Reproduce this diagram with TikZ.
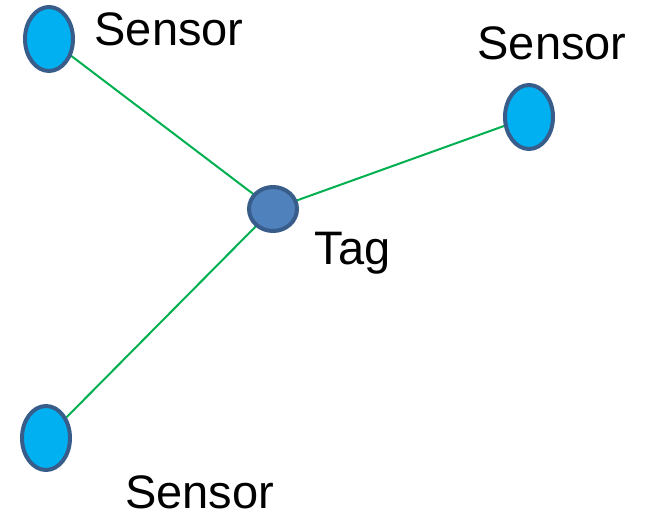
\documentclass[tikz,border=0pt]{standalone}
\usepackage{fontspec}
\setmainfont{Liberation Sans}
\usetikzlibrary{shapes.geometric}
\definecolor{sensorfill}{HTML}{00B0F0}
\definecolor{tagfill}{HTML}{4F81BD}
\definecolor{rim}{HTML}{385D8A}
\definecolor{linkgreen}{HTML}{00B050}
\tikzset{
  sensor/.style={ellipse, draw=rim, fill=sensorfill, line width=4pt,
    minimum width=48pt, minimum height=64pt, inner sep=0pt},
  tagnode/.style={ellipse, draw=rim, fill=tagfill, line width=4pt,
    minimum width=48pt, minimum height=44pt, inner sep=0pt},
  link/.style={draw=linkgreen, line width=2pt},
  caption/.style={anchor=base, inner sep=0pt, text depth=0pt,
    font=\fontsize{47pt}{47pt}\selectfont}
}
\begin{document}
\begin{tikzpicture}[x=1pt, y=-1pt]
  \useasboundingbox (0,0) rectangle (646,516);
  % links first, so the ellipses sit on top of them
  \coordinate (tl) at (49,39);
  \coordinate (rt) at (529,117);
  \coordinate (bl) at (46,438);
  \coordinate (tg) at (273,209);
  \draw[link] (tl) -- (tg);
  \draw[link] (rt) -- (tg);
  \draw[link] (bl) -- (tg);
  % sensors and tag
  \node[sensor] (s1) at (tl) {};
  \node[sensor] (s2) at (rt) {};
  \node[sensor] (s3) at (bl) {};
  \node[tagnode] (tag) at (tg) {};
  % labels
  \node[caption] (l1) at (169,46) {Sensor};
  \node[caption] (l2) at (552,60) {Sensor};
  \node[caption] (l3) at (199.5,508) {Sensor};
  \node[caption] (l4) at (352.5,265) {Tag};
\end{tikzpicture}
\end{document}
